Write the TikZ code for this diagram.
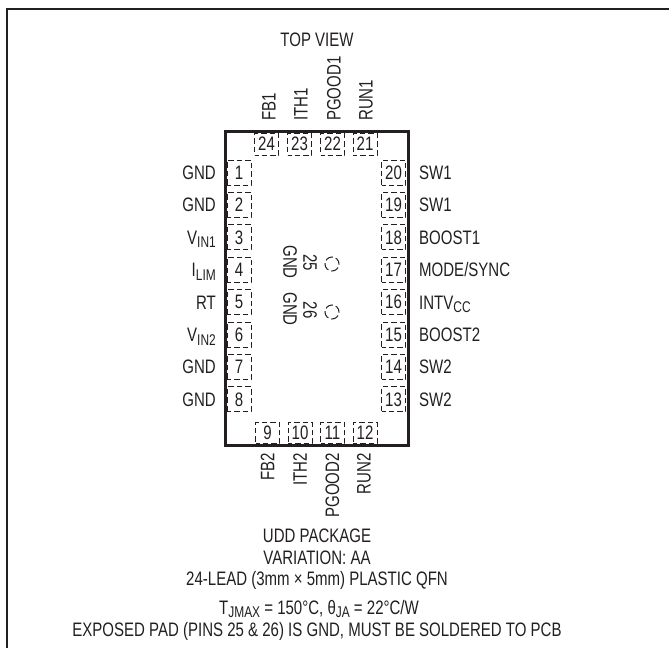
\documentclass[tikz,border=0pt]{standalone}
\usepackage{fontspec}
\setmainfont{Liberation Sans}[FakeStretch=0.77]
\definecolor{ink}{HTML}{231F20}
\newcommand\sbs[1]{\raisebox{-3.5pt}{\fontsize{15.5}{16}\selectfont #1}}
\tikzset{
  lbl/.style={inner sep=0pt, text=ink},
  pinbox/.style={draw=ink, line width=1pt, dash pattern=on 5.5pt off 3pt, dash phase=1.5pt,
    inner sep=0pt, text=ink},
  lpin/.style={pinbox, minimum width=24pt, minimum height=25pt},
  tpin/.style={pinbox, minimum width=24pt, minimum height=22pt},
  bpin/.style={pinbox, minimum width=24pt, minimum height=21.5pt},
  frameline/.style={draw=ink, line width=1.3pt},
  bodybox/.style={draw=ink, line width=3pt, inner sep=0pt, minimum width=183pt, minimum height=314pt},
  padring/.style={circle, draw=ink, line width=1pt, dash pattern=on 8pt off 3pt, dash phase=1pt, inner sep=0pt, minimum size=14pt},
}
\begin{document}
\begin{tikzpicture}[x=1pt,y=-1pt,font=\fontsize{19.5}{22}\selectfont]
\useasboundingbox (0,0) rectangle (669,648);
\draw[frameline] (7,648) -- (7,9) -- (669,9);
\node[bodybox] (body) at (316.5,288) {};
% title
\node[lbl, anchor=base] (title) at (317,46.7) {TOP VIEW};
% left pins
\foreach \i/\lab [evaluate=\i as \yc using 172.5+32.4*(\i-1)] in
  {1/GND,2/GND,3/V\sbs{IN1},4/I\sbs{LIM},5/RT,6/V\sbs{IN2},7/GND,8/GND}{
  \node[lpin] (p\i) at (239,\yc) {\i};
  \node[lbl, anchor=base east] (l\i) at (216,\yc+7) {\lab};
}
% right pins
\foreach \i/\n/\lab [evaluate=\i as \yc using 172.5+32.4*(\i-1)] in
  {1/20/SW1,2/19/SW1,3/18/BOOST1,4/17/{MODE/SYNC},5/16/INTV\sbs{CC},6/15/BOOST2,7/14/SW2,8/13/SW2}{
  \node[lpin] (p\n) at (393.5,\yc) {\n};
  \node[lbl, anchor=base west] (l\n) at (419,\yc+7) {\lab};
}
% top pins
\foreach \n/\x/\lx/\lab in {24/266.5/269/FB1,23/299.5/301/ITH1,22/332.5/334/PGOOD1,21/365/366/RUN1}{
  \node[tpin] (p\n) at (\x,144) {\n};
  \node[lbl, rotate=90, anchor=west] (l\n) at (\lx,121) {\lab};
}
% bottom pins
\foreach \n/\x/\lx/\lab in {9/267.5/267.5/FB2,10/300/300/ITH2,11/332.5/332.5/PGOOD2,12/365/364/RUN2}{
  \node[bpin] (p\n) at (\x,432.75) {\n};
  \node[lbl, rotate=90, anchor=east] (l\n) at (\lx,453) {\lab};
}
% exposed pad
\node[lbl, rotate=-90] (g25) at (290,262) {GND};
\node[lbl, rotate=-90] (n25) at (310,262.5) {25};
\node[padring] (c25) at (332,264) {};
\node[lbl, rotate=-90] (g26) at (290,309) {GND};
\node[lbl, rotate=-90] (n26) at (310,310) {26};
\node[padring] (c26) at (332,312) {};
% bottom text
\node[lbl, anchor=base] (t1) at (317,542.5) {UDD PACKAGE};
\node[lbl, anchor=base] (t2) at (317,564) {VARIATION: AA};
\node[lbl, anchor=base] (t3) at (317,585.5) {24-LEAD (3mm × 5mm) PLASTIC QFN};
\node[lbl, anchor=base] (t4) at (319,614) {T\sbs{JMAX} = 150°C, θ\sbs{JA} = 22°C/W};
\node[lbl, anchor=base] (t5) at (317,636) {EXPOSED PAD (PINS 25 \& 26) IS GND, MUST BE SOLDERED TO PCB};
\end{tikzpicture}
\end{document}
